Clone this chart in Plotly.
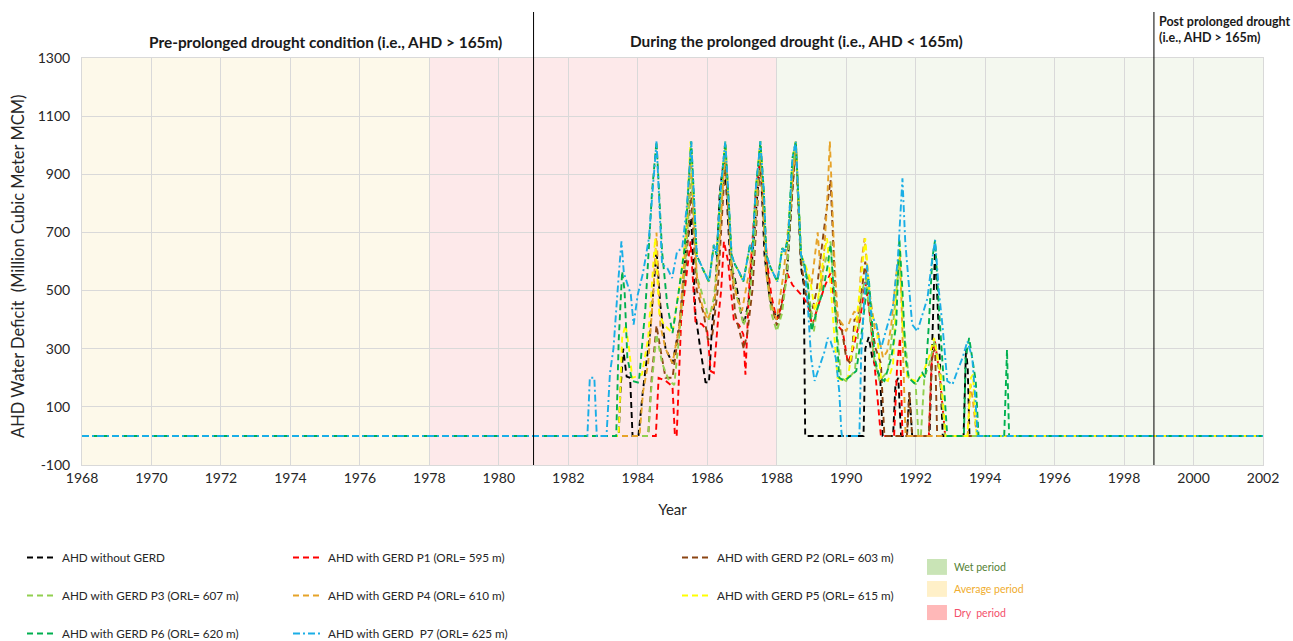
import plotly.graph_objects as go

FONT = "Lato, Carlito, Calibri, sans-serif"

# ---------------- data (decimal year, water deficit MCM) ----------------
black_pts = [(1968, 0), (1983.45, 0), (1983.5, 150), (1983.58, 300), (1983.68, 204), (1983.78, 200),
             (1983.85, 0), (1984.02, 0), (1984.15, 158), (1984.35, 350), (1984.54, 640), (1984.65, 450),
             (1984.8, 300), (1985.0, 250), (1985.2, 380), (1985.4, 650), (1985.54, 750), (1985.66, 420),
             (1985.8, 300), (1985.95, 185), (1986.05, 183), (1986.14, 383), (1986.24, 500), (1986.36, 840),
             (1986.5, 966), (1986.67, 577), (1986.77, 554), (1986.87, 497), (1986.96, 429), (1987.06, 383),
             (1987.2, 470), (1987.35, 700), (1987.53, 960), (1987.65, 620), (1987.8, 470), (1988.0, 400),
             (1988.15, 450), (1988.3, 560), (1988.45, 850), (1988.55, 1000), (1988.7, 580), (1988.78, 520),
             (1988.82, 0), (1990.5, 0), (1990.55, 300), (1990.65, 340), (1990.75, 270), (1990.88, 230),
             (1990.98, 200), (1991.05, 0), (1991.35, 0), (1991.42, 180), (1991.5, 200), (1991.58, 0),
             (1991.75, 0), (1991.82, 150), (1991.9, 0), (1992.4, 0), (1992.47, 300), (1992.56, 650),
             (1992.65, 400), (1992.72, 200), (1992.78, 0), (1993.38, 0), (1993.45, 300), (1993.5, 230),
             (1993.55, 0), (2002, 0)]

p1_pts = [(1968, 0), (1984.52, 0), (1984.6, 200), (1984.8, 190), (1985.0, 170), (1985.07, 0), (1985.12, 0),
          (1985.25, 400), (1985.4, 550), (1985.52, 669), (1985.66, 394), (1985.86, 383), (1986.0, 360),
          (1986.1, 223), (1986.19, 217), (1986.3, 383), (1986.4, 500), (1986.48, 669), (1986.6, 600),
          (1986.77, 394), (1986.91, 383), (1987.04, 349), (1987.1, 211), (1987.2, 497), (1987.4, 840),
          (1987.52, 954), (1987.6, 850), (1987.72, 600), (1987.85, 480), (1988.0, 400), (1988.12, 440),
          (1988.3, 560), (1988.45, 520), (1988.6, 500), (1988.75, 480), (1988.9, 450), (1989.02, 380),
          (1989.2, 450), (1989.4, 520), (1989.55, 560), (1989.75, 380), (1989.9, 360), (1990.05, 250),
          (1990.2, 300), (1990.4, 400), (1990.55, 530), (1990.7, 400), (1990.85, 200), (1991.0, 0),
          (1991.38, 0), (1991.47, 250), (1991.55, 337), (1991.62, 0), (1992.38, 0), (1992.46, 250),
          (1992.55, 330), (1992.7, 200), (1992.85, 0), (2002, 0)]

p2_pts = [(1968, 0), (1984.3, 0), (1984.4, 200), (1984.54, 380), (1984.65, 300), (1984.8, 200), (1985.0, 200),
          (1985.2, 380), (1985.4, 600), (1985.53, 840), (1985.7, 500), (1985.9, 420), (1986.02, 330),
          (1986.15, 350), (1986.3, 500), (1986.45, 800), (1986.52, 950), (1986.65, 700), (1986.8, 420),
          (1986.95, 350), (1987.05, 300), (1987.15, 350), (1987.3, 500), (1987.45, 800), (1987.53, 950),
          (1987.65, 700), (1987.8, 480), (1988.0, 380), (1988.1, 420), (1988.25, 520), (1988.4, 750),
          (1988.55, 1000), (1988.7, 600), (1988.85, 480), (1989.0, 420), (1989.15, 500), (1989.35, 700),
          (1989.55, 880), (1989.71, 429), (1989.85, 383), (1990.0, 269), (1990.14, 246), (1990.24, 400),
          (1990.34, 406), (1990.45, 500), (1990.55, 600), (1990.7, 400), (1990.85, 300), (1991.0, 250),
          (1991.1, 0), (1991.75, 0), (1991.82, 150), (1991.9, 0), (1992.38, 0), (1992.47, 280),
          (1992.56, 300), (1992.62, 0), (2002, 0)]

p3_pts = [(1968, 0), (1984.3, 0), (1984.38, 150), (1984.54, 350), (1984.7, 250), (1984.9, 190), (1985.05, 175),
          (1985.2, 350), (1985.4, 650), (1985.54, 900), (1985.7, 550), (1985.9, 470), (1986.05, 400),
          (1986.2, 480), (1986.35, 700), (1986.52, 1000), (1986.7, 600), (1986.85, 480), (1987.05, 380),
          (1987.2, 450), (1987.35, 650), (1987.53, 1000), (1987.7, 560), (1987.85, 420), (1988.0, 360),
          (1988.15, 420), (1988.3, 560), (1988.45, 900), (1988.55, 1013), (1988.7, 620), (1988.85, 560),
          (1989.07, 360), (1989.3, 554), (1989.55, 669), (1989.7, 420), (1989.85, 200), (1990.0, 189),
          (1990.25, 223), (1990.45, 497), (1990.57, 543), (1990.8, 269), (1990.96, 189), (1991.2, 223),
          (1991.35, 383), (1991.53, 600), (1991.68, 350), (1991.8, 200), (1992.0, 180), (1992.08, 0),
          (1992.15, 0), (1992.25, 200), (1992.4, 250), (1992.55, 330), (1992.7, 200), (1992.85, 0),
          (2002, 0)]

p4_pts = [(1968, 0), (1984.05, 0), (1984.15, 150), (1984.3, 250), (1984.45, 500), (1984.54, 700), (1984.65, 380),
          (1984.8, 300), (1985.0, 250), (1985.2, 380), (1985.4, 700), (1985.52, 980), (1985.7, 550),
          (1985.85, 450), (1986.0, 400), (1986.2, 450), (1986.35, 650), (1986.52, 1000), (1986.7, 550),
          (1986.85, 480), (1987.0, 430), (1987.2, 560), (1987.35, 700), (1987.52, 1000), (1987.7, 560),
          (1987.85, 450), (1988.0, 400), (1988.2, 560), (1988.4, 800), (1988.55, 1013), (1988.7, 620),
          (1988.85, 560), (1989.0, 520), (1989.18, 700), (1989.3, 500), (1989.45, 800), (1989.53, 1013),
          (1989.66, 611), (1989.76, 406), (1989.9, 383), (1990.0, 360), (1990.14, 406), (1990.24, 429),
          (1990.34, 383), (1990.43, 589), (1990.53, 680), (1990.67, 497), (1990.82, 371), (1990.91, 360),
          (1991.06, 269), (1991.18, 291), (1991.3, 383), (1991.44, 554), (1991.54, 634), (1991.6, 429),
          (1991.66, 211), (1991.71, 0), (1993.5, 0), (1993.58, 177), (1993.65, 120), (1993.72, 40),
          (1993.78, 0), (2002, 0)]

# shared crest/trough sequence of the highest-release scenarios, 1985.5 - 1988.7
peak_envelope = [(1985.7, 620), (1985.85, 580), (1986.05, 530), (1986.19, 657), (1986.27, 623), (1986.38, 840),
                 (1986.52, 1013), (1986.63, 783), (1986.7, 623), (1986.8, 589), (1986.91, 566), (1987.04, 531),
                 (1987.15, 611), (1987.23, 657), (1987.3, 634), (1987.39, 840), (1987.53, 1013), (1987.63, 840),
                 (1987.7, 623), (1987.83, 577), (1988.02, 531), (1988.16, 646), (1988.23, 634), (1988.33, 680),
                 (1988.45, 954), (1988.55, 1013), (1988.7, 623)]

p5_early = [(1968, 0), (1983.45, 0), (1983.55, 337), (1983.65, 383), (1983.75, 300), (1983.84, 200),
            (1984.12, 211), (1984.3, 337), (1984.5, 680), (1984.62, 420), (1984.75, 383), (1985.0, 354),
            (1985.25, 554), (1985.38, 691), (1985.52, 1013)]
p5_late = [(1988.82, 589), (1988.95, 545), (1989.1, 430), (1989.2, 480), (1989.35, 620), (1989.45, 680),
           (1989.6, 450), (1989.75, 200), (1989.9, 189), (1990.05, 200), (1990.3, 400), (1990.55, 680),
           (1990.72, 417), (1990.87, 383), (1991.0, 200), (1991.2, 189), (1991.35, 246), (1991.47, 554),
           (1991.55, 646), (1991.62, 383), (1991.76, 200), (1992.0, 189), (1992.19, 211), (1992.38, 269),
           (1992.53, 337), (1992.72, 211), (1992.87, 0), (1993.49, 0), (1993.59, 200), (1993.65, 211),
           (1993.73, 40), (1993.76, 0), (2002, 0)]

p6_early = [(1968, 0), (1983.38, 0), (1983.45, 326), (1983.55, 566), (1983.62, 500), (1983.7, 269),
            (1983.84, 189), (1984.03, 183), (1984.22, 440), (1984.41, 840), (1984.54, 1013), (1984.7, 634),
            (1984.85, 450), (1985.0, 354), (1985.18, 497), (1985.35, 646), (1985.54, 1013)]
p6_late = [(1988.8, 589), (1988.9, 520), (1989.0, 360), (1989.15, 429), (1989.33, 497), (1989.47, 589),
           (1989.55, 660), (1989.71, 383), (1989.8, 200), (1989.95, 189), (1990.29, 223), (1990.43, 337),
           (1990.58, 497), (1990.65, 543), (1990.82, 269), (1990.96, 200), (1991.1, 189), (1991.3, 269),
           (1991.44, 383), (1991.53, 680), (1991.62, 500), (1991.71, 269), (1991.8, 200), (1992.0, 177),
           (1992.19, 217), (1992.28, 200), (1992.38, 383), (1992.48, 611), (1992.56, 674), (1992.67, 440),
           (1992.77, 269), (1992.87, 97), (1992.91, 0), (1993.39, 0), (1993.44, 269), (1993.54, 337),
           (1993.63, 269), (1993.73, 189), (1993.81, 0), (1994.55, 0), (1994.63, 297), (1994.69, 0), (2002, 0)]

p7_early = [(1968, 0), (1982.55, 0), (1982.62, 200), (1982.75, 200), (1982.82, 0), (1983.1, 0), (1983.2, 217),
            (1983.3, 300), (1983.45, 550), (1983.53, 669), (1983.6, 560), (1983.7, 520), (1983.8, 486),
            (1983.88, 383), (1984.0, 486), (1984.15, 560), (1984.32, 680), (1984.54, 1013), (1984.7, 590),
            (1984.85, 577), (1984.99, 543), (1985.13, 634), (1985.28, 646), (1985.42, 800), (1985.54, 1013)]
p7_late = [(1988.8, 589), (1988.9, 440), (1988.99, 269), (1989.09, 189), (1989.25, 246), (1989.38, 291),
           (1989.47, 337), (1989.55, 326), (1989.7, 269), (1989.8, 154), (1989.86, 17), (1989.88, 0),
           (1990.38, 0), (1990.43, 269), (1990.53, 497), (1990.6, 589), (1990.72, 417), (1990.87, 383),
           (1991.0, 300), (1991.2, 383), (1991.35, 450), (1991.49, 611), (1991.62, 886), (1991.7, 669),
           (1991.81, 520), (1991.9, 383), (1992.05, 360), (1992.19, 417), (1992.34, 474), (1992.48, 611),
           (1992.56, 674), (1992.67, 497), (1992.77, 383), (1992.91, 189), (1993.06, 177), (1993.2, 223),
           (1993.35, 269), (1993.49, 326), (1993.63, 269), (1993.73, 109), (1993.78, 0), (2002, 0)]

p5_pts = p5_early + peak_envelope + p5_late
p6_pts = p6_early + peak_envelope + p6_late
p7_pts = p7_early + peak_envelope + p7_late

series_names = ["AHD without GERD", "AHD with GERD P1 (ORL= 595 m)", "AHD with GERD P2 (ORL= 603 m)",
                "AHD with GERD P3 (ORL= 607 m)", "AHD with GERD P4 (ORL= 610 m)", "AHD with GERD P5 (ORL= 615 m)",
                "AHD with GERD P6 (ORL= 620 m)", "AHD with GERD\u00a0 P7 (ORL= 625 m)"]
series_data = [black_pts, p1_pts, p2_pts, p3_pts, p4_pts, p5_pts, p6_pts, p7_pts]

# period shading (start, end, label)
periods = [(1968, 1978, "Average period"), (1978, 1988, "Dry period"), (1988, 2002, "Wet period")]
boundary_years = [1981, 1998.86]

x_ticks = list(range(1968, 2003, 2))
y_ticks = list(range(-100, 1301, 200))
y_ticktext = [str(v) for v in y_ticks]

# ---------------- styles ----------------
colors = ["#000000", "#ff0000", "#8b4513", "#92d050", "#e6a329", "#ffff00", "#00b050", "#1aaee6"]
dashes = ["6px,4px"] * 7 + ["7px,3px,2px,3px"]
legends = ["legend", "legend2", "legend3", "legend", "legend2", "legend3", "legend", "legend2"]
period_fill = {"Average period": "#fdf9ea", "Dry period": "#fde9ea", "Wet period": "#f4f8ef"}

fig = go.Figure()
for name, pts, col, dsh, leg in zip(series_names, series_data, colors, dashes, legends):
    fig.add_trace(go.Scatter(
        x=[p[0] for p in pts], y=[p[1] for p in pts], mode="lines", name=name,
        line=dict(color=col, width=1.9, dash=dsh), legend=leg, legendgroup=name, hoverinfo="skip"))

shapes = []
for x0, x1, lab in periods:
    shapes.append(dict(type="rect", xref="x", yref="paper", x0=x0, x1=x1, y0=0, y1=1,
                       fillcolor=period_fill[lab], line=dict(width=0), layer="below"))
for bx in boundary_years:
    shapes.append(dict(type="line", xref="x", yref="paper", x0=bx, x1=bx, y0=0, y1=1.113,
                       line=dict(color="#000000", width=1)))

# period legend swatches
sw_items = [("Wet period", "#c9e4b6", "#548235", -0.231, -0.270),
            ("Average period", "#fff0c8", "#f0ad2e", -0.285, -0.324),
            ("Dry  period", "#ffb8b8", "#f4506a", -0.344, -0.381)]
annotations = []
for lab, fc, tc, ya, yb in sw_items:
    shapes.append(dict(type="rect", xref="paper", yref="paper", x0=0.7155, x1=0.7324, y0=yb, y1=ya,
                       fillcolor=fc, line=dict(width=0)))
    annotations.append(dict(text=lab.replace("  ", "\u00a0 "), xref="paper", yref="paper", x=0.7367,
                            y=(ya + yb) / 2, xanchor="left", yanchor="middle", showarrow=False,
                            font=dict(family=FONT, size=10.5, color=tc)))

annotations += [
    dict(text="<b>Pre-prolonged drought condition (i.e., AHD > 165m)</b>", xref="paper", yref="paper",
         x=0.2058, y=1.039, xanchor="center", yanchor="middle", showarrow=False,
         font=dict(family=FONT, size=15.4, color="#1a1a1a")),
    dict(text="<b>During the prolonged drought (i.e., AHD < 165m)</b>", xref="paper", yref="paper",
         x=0.6054, y=1.041, xanchor="center", yanchor="middle", showarrow=False,
         font=dict(family=FONT, size=15.4, color="#1a1a1a")),
    dict(text="<b>Post prolonged drought<br>(i.e., AHD > 165m)</b>", xref="paper", yref="paper",
         x=0.9103, y=1.069, xanchor="left", yanchor="middle", align="left", showarrow=False,
         font=dict(family=FONT, size=12.5, color="#1a1a1a")),
    dict(text="AHD Water Deficit\u00a0 (Million Cubic Meter MCM)", xref="paper", yref="paper",
         x=(18 - 82) / 1181, y=0.489, xanchor="center", yanchor="middle", textangle=-90, showarrow=False,
         font=dict(family=FONT, size=16.5, color="#262626")),
]

leg_common = dict(bgcolor="rgba(0,0,0,0)", borderwidth=0, orientation="v", xanchor="left", yanchor="top",
                  xref="container", yref="container",
                  tracegroupgap=19, itemwidth=30, font=dict(family=FONT, size=11.7, color="#262626"))

fig.update_layout(
    width=1293, height=641,
    margin=dict(l=82, r=30, t=58, b=176, autoexpand=False),
    paper_bgcolor="white", plot_bgcolor="white",
    font=dict(family=FONT, size=14, color="#262626"),
    shapes=shapes, annotations=annotations,
    legend=dict(x=22 / 1293, y=1 - 543 / 641, **leg_common),
    legend2=dict(x=288 / 1293, y=1 - 543 / 641, **leg_common),
    legend3=dict(x=677 / 1293, y=1 - 543 / 641, **leg_common),
    xaxis=dict(range=[1968, 2002], tickvals=x_ticks, showgrid=True, gridcolor="#d9d9d9", gridwidth=1,
               zeroline=False, showline=True, linecolor="#d9d9d9", mirror=True, ticks="",
               tickfont=dict(family=FONT, size=14, color="#262626"),
               title=dict(text="Year", font=dict(family=FONT, size=15, color="#262626"), standoff=19)),
    yaxis=dict(range=[-100, 1300], tickvals=y_ticks, ticktext=y_ticktext, showgrid=True,
               gridcolor="#d9d9d9", gridwidth=1,
               zeroline=False, showline=True, linecolor="#d9d9d9", mirror=True, ticks="",
               ticklabelstandoff=8,
               tickfont=dict(family=FONT, size=14, color="#262626")),
)

fig.write_html("out.html")
